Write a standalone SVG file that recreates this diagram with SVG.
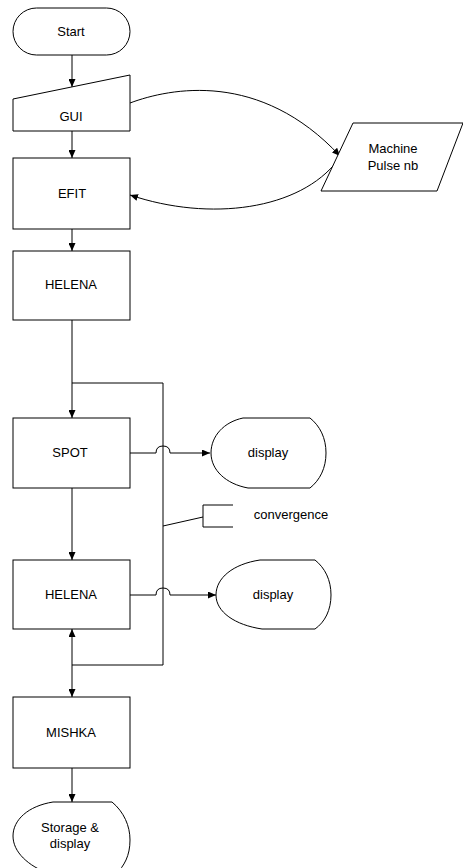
<svg xmlns="http://www.w3.org/2000/svg" width="463" height="868" viewBox="0 0 463 868">
<defs>
<marker id="ah" viewBox="0 0 8 7" refX="8" refY="3.5" markerWidth="8" markerHeight="7" markerUnits="userSpaceOnUse" orient="auto">
<path d="M0,0 L8,3.5 L0,7 z" fill="#000"/>
</marker>
<style>
.s{fill:#fff;stroke:#000;stroke-width:1}
.c{fill:none;stroke:#000;stroke-width:1}
.a{marker-end:url(#ah)}
text{font-family:"Liberation Sans",Arial,sans-serif;font-size:13px;fill:#000;text-anchor:middle}
</style>
</defs>
<rect width="463" height="868" fill="#fff"/>
<g id="connectors">
<path class="c a" d="M72,55 V87"/>
<path class="c a" d="M72,131 V158"/>
<path class="c a" d="M72,229 V251"/>
<path class="c a" d="M130,103 C170,88 260,70 340,156"/>
<path class="c a" d="M338,160 C300,210 210,222 130,195"/>
<path class="c a" d="M72,320 V418"/>
<path class="c" d="M72,383 H163 V665 H72"/>
<path class="c a" d="M72,488 V560"/>
<path class="c a" d="M72,665 V629"/>
<path class="c a" d="M72,665 V697"/>
<path class="c a" d="M72,768 V802"/>
<path class="c a" d="M130,453 H156 Q156,446 163,446 Q170,446 170,453 H210"/>
<path class="c a" d="M130,595 H156 Q156,588 163,588 Q170,588 170,595 H216"/>
<path class="c" d="M163,526 L203,517"/>
</g>
<g id="start">
<rect class="s" x="13" y="8" width="117" height="47" rx="23.5" ry="23.5"/>
<text x="71" y="36">Start</text>
</g>
<g id="gui">
<path class="s" d="M13,99 L130,75 V131 H13 Z"/>
<text x="71" y="121">GUI</text>
</g>
<g id="machine">
<path class="s" d="M353,123 H463 L437,191 H321 Z"/>
<text x="393" y="153">Machine</text>
<text x="393" y="170">Pulse nb</text>
</g>
<g id="efit">
<rect class="s" x="13" y="158" width="117" height="71"/>
<text x="72" y="198">EFIT</text>
</g>
<g id="helena1">
<rect class="s" x="13" y="251" width="117" height="69"/>
<text x="71" y="289">HELENA</text>
</g>
<g id="spot">
<rect class="s" x="13" y="418" width="117" height="70"/>
<text x="70" y="457">SPOT</text>
</g>
<g id="display1">
<path class="s" d="M243,418 H310 C320,426 326,438 326,453 C326,468 320,480 310,488 H248 C226,484 211,470 211,453 C211,436 224,422 243,418 Z"/>
<text x="268" y="457">display</text>
</g>
<g id="convergence">
<path class="c" d="M233,505 H203 V527 H233"/>
<text x="291" y="519">convergence</text>
</g>
<g id="helena2">
<rect class="s" x="13" y="560" width="117" height="69"/>
<text x="71" y="599">HELENA</text>
</g>
<g id="display2">
<path class="s" d="M260,560 H315 C325,568 331,580 331,595 C331,610 325,622 315,629 H262 C235,625 216,612 216,595 C216,578 233,564 260,560 Z"/>
<text x="273" y="599">display</text>
</g>
<g id="mishka">
<rect class="s" x="13" y="697" width="117" height="71"/>
<text x="71" y="737">MISHKA</text>
</g>
<g id="storage">
<path class="s" d="M53,802 H112 C124,812 130,826 130,840 C130,856 124,866 116,874 H50 C28,866 13,852 13,836 C13,820 28,806 53,802 Z"/>
<text x="70" y="832">Storage &amp;</text>
<text x="70" y="848">display</text>
</g>
</svg>
